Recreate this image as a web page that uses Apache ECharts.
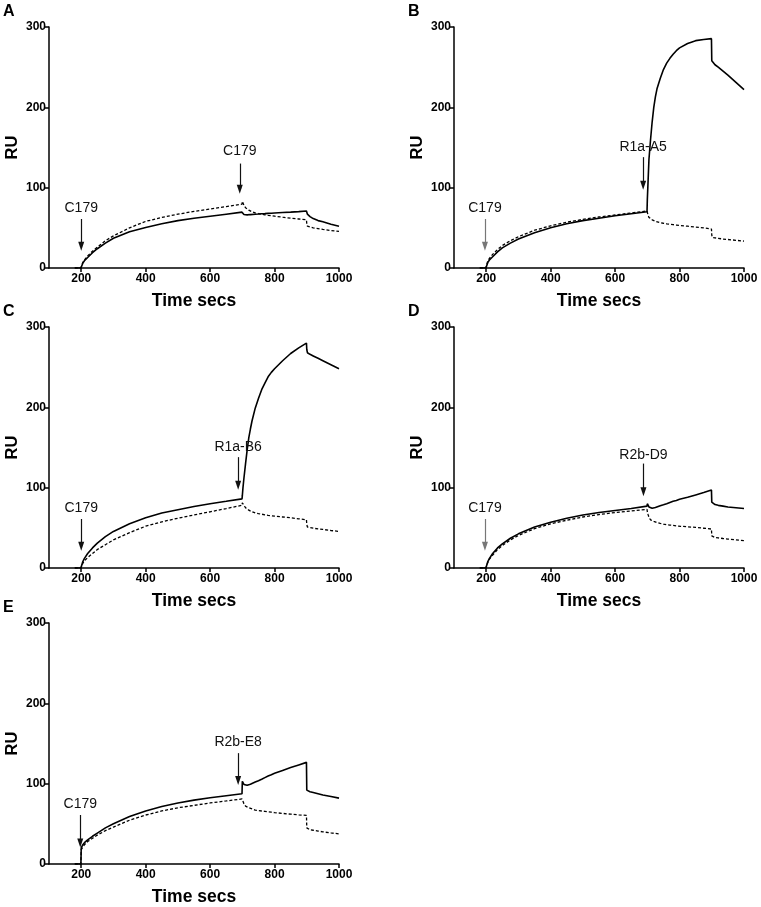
<!DOCTYPE html>
<html><head><meta charset="utf-8">
<script src="https://cdn.jsdelivr.net/npm/echarts@6/dist/echarts.min.js"></script>
<style>html,body{margin:0;padding:0;background:#fff}#c{width:761px;height:907px}</style>
</head><body><div id="c"></div>
<script>
// shared time grid (secs)
var T = [180,199,200,205,210,220,235,250,275,300,350,400,450,500,550,600,650,699,700,702,705,710,715,720,725,730,740,750,760,770,780,790,800,825,850,875,899,900,902,910,920,935,950,975,1000];

var A_solid  = [0,0,0,6,9,13,19,24,31,37, 45,50.5,55,59,62,64.5,67,69.5, 70,68,66.5,66,66.1,66.3,66.5,66.7,67,67.2, 67.5,67.7,68,68.2,68.5,69,69.5,70.2,71, 69,67,64,61.5,59,57.5,54.5,52];
var A_dashed = [0,0,0,7,10,15,21,26,34,40, 50,58,63,67,70.5,73.5,76.5,79.5, 83,81,78,75,73.5,72,71,70,68.5,67.7, 67,66.2,65.5,65,64.5,63.2,62,61,60, 55,52,51,50,49,48,46.7,45.5];

var B_solid  = [0,0,0,7,10,14,20,25,31,36, 44,50,55,59,62,65,67.5,70, 85,105,135,160,182,200,213,223,236,247, 255,261,266,270.5,274,279.5,283,284.5,285.5, 258,256,253,250,245,240,231,222];
var B_dashed = [0,0,0,9,12,17,23,28,34,39, 47,52.5,57,60.5,63.5,66,68.5,71, 70,66,63,61,60,59,58.2,57.5,56.5,55.7, 55,54.5,54,53.5,53,52,51,50,48.5, 41,38,37.5,37,36,35.5,34.5,33.5];

var C_solid  = [0,0,0,8,12,18,25,31,39,45.5, 55,62.5,68.5,72.5,76.5,80,83,86, 90,100,112,130,147,162,173,183,199,211, 222,230,238,243.5,248,258,267,274,280, 272,268,266,264,261,258,253,248];
var C_dashed = [0,0,0,6,9,13,18,23,29,35, 44,52,57.5,62,66,70,74,78, 81,80,78,75,73.5,72,71,70,68.5,67.7, 67,66.2,65.5,65,64.5,63.5,62.5,61.2,60, 54,51,50.5,49.5,48.7,48,46.7,45.5];

var D_solid  = [0,0,0,8,12,18,25,30,37,42.5, 51,57,62,66,69,71.5,74,77, 80,79,76,74.5,74.3,74.5,75.2,76,77.5,78.7, 80,81.5,83,84,85.5,88,91,94,97, 82,80,79,78,77,76,75,74];
var D_dashed = [0,0,0,7,11,16,23,28,35,40.5, 49,55,59.5,63.5,66.5,69,71,73, 70,67,63,60,59,58,57.2,56.5,55.5,54.7, 54,53.5,53,52.5,52,51.3,50.5,49.5,48.5, 40,38.5,38,37.5,36.7,36,35,34];

var E_solid  = [0,0,20,24,26.5,30,34.5,38.5,45,50, 59,66,71.5,76,79.5,82.5,85,87.5, 103,101,99,97.5,98,98.5,99.2,100,102,103.7, 105.5,107.5,109.5,111.2,113,116.5,120,123.3,126.5, 92,91,90,89,87.5,86,84,82];
var E_dashed = [0,0,18,21,24,28,32,36,41.5,46, 54.5,61,66,70,73,76,78.5,81, 80,78,75,72,71,70,69.2,68.5,67,66.5, 66,65.5,65,64.5,64,63,62,61.2,60.5, 45,43,42.5,42,41,40,38.7,37.5];

var xTicks = [200,400,600,800,1000];
var yTicks = [0,100,200,300];

// annotations: label, x, text y, arrow from y, arrow to y, colour
var annA = [['C179',200,75,61,27,'#111'],['C179',692,145,130,98,'#111']];
var annB = [['C179',196,75,61,27,'#777'],['R1a-A5',687,151,138,103,'#111']];
var annC = [['C179',200,75,61,27,'#111'],['R1a-B6',687,151,138,103,'#111']];
var annD = [['C179',196,75,61,27,'#777'],['R2b-D9',688,141,130,95,'#111']];
var annE = [['C179',197,75,61,26,'#111'],['R2b-E8',687,152,138,104,'#111']];

var panels = [
  {letter:'A', s:A_solid, d:A_dashed, ann:annA, left:49, top:27},
  {letter:'B', s:B_solid, d:B_dashed, ann:annB, left:454, top:27},
  {letter:'C', s:C_solid, d:C_dashed, ann:annC, left:49, top:327},
  {letter:'D', s:D_solid, d:D_dashed, ann:annD, left:454, top:327},
  {letter:'E', s:E_solid, d:E_dashed, ann:annE, left:49, top:623}
];

var FONT = 'Liberation Sans, Arial, sans-serif';
function zip(x,y){return x.map(function(v,i){return [v,y[i]];});}

var grids=[], xAxes=[], yAxes=[], series=[], graphics=[];
panels.forEach(function(p,i){
  grids.push({left:p.left, top:p.top, width:290, height:241});
  xAxes.push({type:'value', gridIndex:i, min:100, max:1000,
    name:'Time secs', nameLocation:'middle', nameGap:24,
    nameTextStyle:{fontFamily:FONT, fontWeight:'bold', fontSize:17.5, color:'#000'},
    axisLine:{show:true, onZero:false, lineStyle:{color:'#000', width:1.5}},
    axisTick:{show:true, length:4, customValues:xTicks, lineStyle:{color:'#000', width:1.5}},
    axisLabel:{customValues:xTicks, margin:5, fontFamily:FONT, fontWeight:'bold', fontSize:12, color:'#000',
      formatter:function(v){return String(v);}},
    splitLine:{show:false}});
  yAxes.push({type:'value', gridIndex:i, min:0, max:300, interval:100,
    name:'RU', nameLocation:'middle', nameGap:28,
    nameTextStyle:{fontFamily:FONT, fontWeight:'bold', fontSize:16.5, color:'#000'},
    axisLine:{show:true, lineStyle:{color:'#000', width:1.5}},
    axisTick:{show:true, length:4, lineStyle:{color:'#000', width:1.5}},
    axisLabel:{margin:3, fontFamily:FONT, fontWeight:'bold', fontSize:12, color:'#000',
      formatter:function(v){return String(v);}},
    splitLine:{show:false}});
  series.push({type:'line', xAxisIndex:i, yAxisIndex:i, data:zip(T,p.d), showSymbol:false, symbol:'none',
    lineStyle:{color:'#000', width:1.3, type:[3,2]}, animation:false, silent:true});
  series.push({type:'line', xAxisIndex:i, yAxisIndex:i, data:zip(T,p.s), showSymbol:false, symbol:'none',
    lineStyle:{color:'#000', width:1.6}, animation:false, silent:true,
    markLine:{silent:true, animation:false, symbol:['none','triangle'], symbolSize:[6,9],
      label:{show:false},
      data:p.ann.map(function(a){return [
        {coord:[a[1],a[3]], lineStyle:{color:a[5], width:1.2, type:'solid'}, itemStyle:{color:a[5]}},
        {coord:[a[1],a[4]]}];})},
    markPoint:{silent:true, animation:false, symbol:'circle', symbolSize:1, itemStyle:{color:'rgba(0,0,0,0)'},
      label:{show:true, position:'inside', fontFamily:FONT, fontSize:14, color:'#111'},
      data:p.ann.map(function(a){return {coord:[a[1],a[2]], value:a[0], label:{formatter:a[0]}};})}
  });
  graphics.push({type:'text', left:p.left-46, top:p.top-23,
    style:{text:p.letter, font:'bold 16px '+FONT, fill:'#000'}});
});

var chart = echarts.init(document.getElementById('c'), null, {renderer:'canvas'});
chart.setOption({animation:false, backgroundColor:'#fff', grid:grids, xAxis:xAxes, yAxis:yAxes, series:series, graphic:graphics});
</script></body></html>
